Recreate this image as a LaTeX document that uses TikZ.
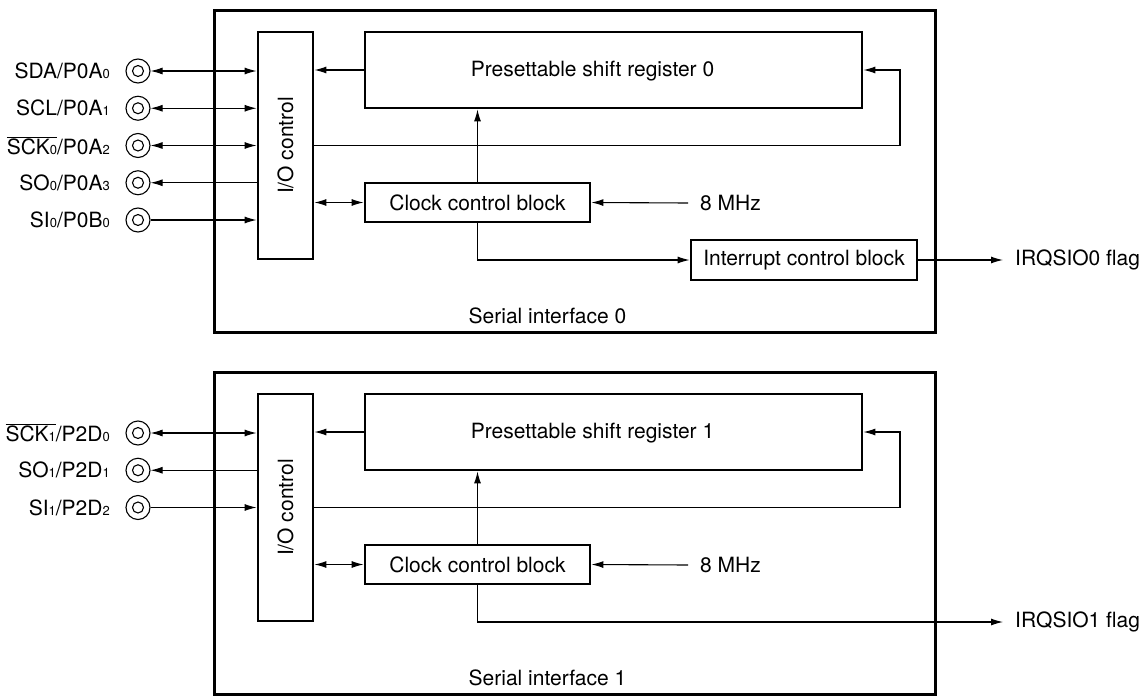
\documentclass[tikz,border=0pt]{standalone}
\usepackage{fontspec}
\setmainfont{TeX Gyre Heros}
\usetikzlibrary{arrows.meta, positioning, calc}

\newcommand{\sub}[1]{{\fontsize{13}{13}\selectfont #1}}
\newcommand{\ovl}[1]{$\overline{\hbox{#1}}$}

\begin{document}
\begin{tikzpicture}[
    x=1pt, y=-1pt,
    every node/.style={font=\fontsize{21}{25}\selectfont},
    frame/.style={draw, line width=3pt, inner sep=0pt},
    blk/.style={draw, line width=2.8pt, inner sep=0pt},
    jack/.style={circle, draw, line width=1.1pt, minimum size=24pt, inner sep=0pt,
        path picture={\draw[line width=1.1pt] (path picture bounding box.center) circle (5.5pt);}},
    sig/.style={line width=1.1pt, >={Latex[length=12pt,width=7pt]}},
    bothway/.style={<->},
    tojack/.style={<-},
    toio/.style={->},
    pinlbl/.style={anchor=east, inner sep=0pt},
    extlbl/.style={anchor=west, inner xsep=12pt}
]
    \useasboundingbox (0,0) rectangle (1143,696);

    % --- Serial interface 0 ---
    \node[frame, minimum width=721pt, minimum height=322pt] (sif0) at (574.5,171) {};
    \node (sif0lbl) at (547.5,316) {Serial interface 0};
    \node[blk, minimum width=55pt, minimum height=227pt] (io0) at (285.5,145.5) {};
    \node[rotate=90] (io0lbl) at (io0) {I/O control};
    \node[blk, minimum width=497pt, minimum height=76pt] (sr0) at (613.5,70) {};
    \node (sr0lbl) at ($(sr0)+(-21,1)$) {Presettable shift register 0};
    \node[blk, minimum width=225pt, minimum height=39pt] (ck0) at (477.5,202.5) {Clock control block};
    \node[blk, minimum width=226pt, minimum height=40pt] (int0) at (804,260) {Interrupt control block};
    \node[extlbl] (mhz0) at (688,203) {8 MHz};
    \node[extlbl] (irq0) at (1003,260) {IRQSIO0 flag};

    \foreach \i/\lbl/\dir in {0/{SDA/P0A\sub0}/bothway, 1/{SCL/P0A\sub1}/bothway,
                              2/{\ovl{SCK\sub0}/P0A\sub2}/bothway, 3/{SO\sub0/P0A\sub3}/tojack,
                              4/{SI\sub0/P0B\sub0}/toio} {
        \node[jack] (j0-\i) at (138, 71+\i*37.25) {};
        \node[pinlbl] (l0-\i) at (110, 71+\i*37.25) {\lbl};
        \draw[sig, \dir] (j0-\i) -- (j0-\i -| io0.west);
    }

    \coordinate (fb0) at (900,70);
    \draw[sig, ->] (sr0.west) -- (sr0.west -| io0.east);
    \draw[sig, ->] (io0.east) -| (fb0) -- (sr0.east);
    \draw[sig, <->] (ck0.west) -- (ck0.west -| io0.east);
    \draw[sig, ->] (ck0.north) -- (ck0.north |- sr0.south);
    \draw[sig, ->] (mhz0.west) -- (ck0.east);
    \draw[sig, ->] (ck0.south) |- (int0.west);
    \draw[sig, ->] (int0.east) -- (irq0.west);

    % --- Serial interface 1 ---
    \def\yB{362}
    \node[frame, minimum width=721pt, minimum height=322pt] (sif1) at (574.5,\yB+171) {};
    \node (sif1lbl) at (547.5,\yB+316) {Serial interface 1};
    \node[blk, minimum width=55pt, minimum height=227pt] (io1) at (285.5,\yB+145.5) {};
    \node[rotate=90] (io1lbl) at (io1) {I/O control};
    \node[blk, minimum width=497pt, minimum height=76pt] (sr1) at (613.5,\yB+70) {};
    \node (sr1lbl) at ($(sr1)+(-21,1)$) {Presettable shift register 1};
    \node[blk, minimum width=225pt, minimum height=39pt] (ck1) at (477.5,\yB+202.5) {Clock control block};
    \node[extlbl] (mhz1) at (688,\yB+203) {8 MHz};
    \node[extlbl] (irq1) at (1003,\yB+260) {IRQSIO1 flag};

    \foreach \i/\lbl/\dir in {0/{\ovl{SCK\sub1}/P2D\sub0}/bothway, 1/{SO\sub1/P2D\sub1}/tojack,
                              2/{SI\sub1/P2D\sub2}/toio} {
        \node[jack] (j1-\i) at (138, \yB+71+\i*37.25) {};
        \node[pinlbl] (l1-\i) at (110, \yB+71+\i*37.25) {\lbl};
        \draw[sig, \dir] (j1-\i) -- (j1-\i -| io1.west);
    }

    \coordinate (fb1) at (900,\yB+70);
    \draw[sig, ->] (sr1.west) -- (sr1.west -| io1.east);
    \draw[sig, ->] (io1.east) -| (fb1) -- (sr1.east);
    \draw[sig, <->] (ck1.west) -- (ck1.west -| io1.east);
    \draw[sig, ->] (ck1.north) -- (ck1.north |- sr1.south);
    \draw[sig, ->] (mhz1.west) -- (ck1.east);
    \draw[sig, ->] (ck1.south) |- (irq1.west);

\end{tikzpicture}
\end{document}
